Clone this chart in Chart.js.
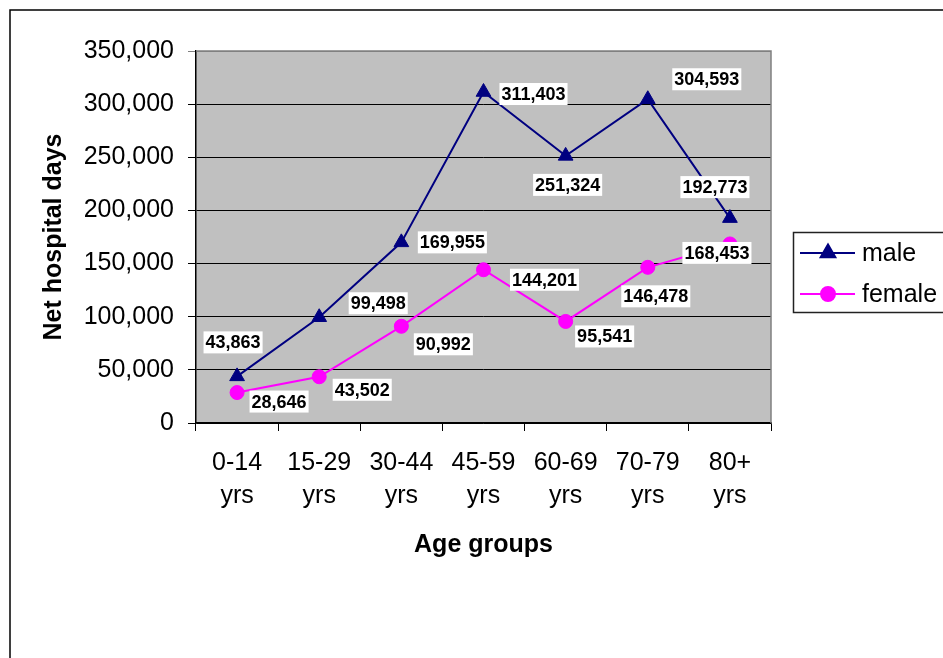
<!DOCTYPE html>
<html>
<head>
<meta charset="utf-8">
<script src="https://cdn.jsdelivr.net/npm/chart.js@4.4.0/dist/chart.umd.min.js"></script>
<style>
    html, body { margin: 0; padding: 0; background: #fff; }
    #wrap { width: 943px; height: 658px; position: relative; }
</style>
</head>
<body>
<div id="wrap"><canvas id="hospitalChart" width="943" height="658"></canvas></div>
<script>
// data
var ageGroups = [["0-14", "yrs"], ["15-29", "yrs"], ["30-44", "yrs"], ["45-59", "yrs"], ["60-69", "yrs"], ["70-79", "yrs"], ["80+", "yrs"]];
var maleDays = [43863, 99498, 169955, 311403, 251324, 304593, 192773];
var femaleDays = [28646, 43502, 90992, 144201, 95541, 146478, 168453];
var yTicks = [0, 50000, 100000, 150000, 200000, 250000, 300000, 350000];

// where each value label sits relative to its point (px)
var maleLabelShift = [[-4, -34], [59, -14], [51, 0], [50, 2], [2, 29], [59, -20], [-15, -31]];
var femaleLabelShift = [[42, 9], [43, 13], [42, 18], [61, 10], [39, 15], [8, 29], [-13, 9]];

var FONT = "'Liberation Sans', Arial, sans-serif";

function fmt(v) {
    return v.toLocaleString("en-US");
}

//- plot background + outer frame -
var backdrop = {
    id: "backdrop",
    beforeDraw: function (chart) {
        var ctx = chart.ctx, a = chart.chartArea;
        ctx.save();
        ctx.fillStyle = "#fff";
        ctx.fillRect(0, 0, chart.width, chart.height);
        ctx.fillStyle = "#C0C0C0";
        ctx.fillRect(a.left, a.top, a.right - a.left, a.bottom - a.top);
        ctx.strokeStyle = "#000";
        ctx.lineWidth = 1.5;
        ctx.beginPath();
        ctx.moveTo(10, chart.height + 2);
        ctx.lineTo(10, 10);
        ctx.lineTo(chart.width + 2, 10);
        ctx.stroke();
        ctx.restore();
    },
    afterDatasetsDraw: function (chart) {
        var ctx = chart.ctx, a = chart.chartArea;
        ctx.save();
        ctx.strokeStyle = "#808080";
        ctx.lineWidth = 1.5;
        ctx.beginPath();
        ctx.moveTo(a.left, a.top);
        ctx.lineTo(a.right, a.top);
        ctx.lineTo(a.right, a.bottom);
        ctx.stroke();
        ctx.restore();
    }
};

//- value labels -
var valueLabels = {
    id: "valueLabels",
    afterDatasetsDraw: function (chart) {
        var ctx = chart.ctx;
        var shifts = [maleLabelShift, femaleLabelShift];
        ctx.save();
        ctx.font = "bold 18px " + FONT;
        ctx.textAlign = "center";
        ctx.textBaseline = "middle";
        chart.data.datasets.forEach(function (ds, d) {
            var meta = chart.getDatasetMeta(d);
            meta.data.forEach(function (pt, i) {
                var txt = fmt(ds.data[i]);
                var x = pt.x + shifts[d][i][0];
                var y = pt.y + shifts[d][i][1];
                var w = ctx.measureText(txt).width + 4;
                ctx.fillStyle = "#fff";
                ctx.fillRect(x - w / 2, y - 11, w, 22);
                ctx.fillStyle = "#000";
                ctx.fillText(txt, x, y + 1);
            });
        });
        ctx.restore();
    }
};

//- legend box on the right -
var sideLegend = {
    id: "sideLegend",
    afterDraw: function (chart) {
        var ctx = chart.ctx;
        ctx.save();
        ctx.strokeStyle = "#222";
        ctx.lineWidth = 1.5;
        ctx.strokeRect(793.5, 232.5, 170, 80);
        ctx.font = "25px " + FONT;
        ctx.textBaseline = "middle";
        ctx.textAlign = "left";
        var rows = [253, 294];
        chart.data.datasets.forEach(function (ds, d) {
            var y = rows[d];
            ctx.strokeStyle = ds.borderColor;
            ctx.lineWidth = 2;
            ctx.beginPath();
            ctx.moveTo(800, y);
            ctx.lineTo(855, y);
            ctx.stroke();
            ctx.fillStyle = ds.pointBackgroundColor;
            ctx.strokeStyle = ds.pointBorderColor;
            Chart.helpers.drawPoint(ctx, {
                pointStyle: ds.pointStyle,
                radius: ds.pointRadius,
                borderWidth: 1,
                rotation: 0
            }, 828, y);
            ctx.fillStyle = "#000";
            ctx.fillText(ds.label, 862, y + 1);
        });
        ctx.restore();
    }
};

var hospitalCanvas = document.getElementById("hospitalChart");

new Chart(hospitalCanvas, {
    type: "line",
    data: {
        labels: ageGroups,
        datasets: [
            {
                label: "male",
                data: maleDays,
                borderColor: "#000080",
                backgroundColor: "#000080",
                borderWidth: 2,
                pointStyle: "triangle",
                pointRadius: 8.5,
                pointBackgroundColor: "#000080",
                pointBorderColor: "#000080",
                pointBorderWidth: 1,
                tension: 0,
                fill: false,
            },
            {
                label: "female",
                data: femaleDays,
                borderColor: "#FF00FF",
                backgroundColor: "#FF00FF",
                borderWidth: 2,
                pointStyle: "circle",
                pointRadius: 7,
                pointBackgroundColor: "#FF00FF",
                pointBorderColor: "#FF00FF",
                pointBorderWidth: 1,
                tension: 0,
                fill: false,
            },
        ],
    },
    options: {
        responsive: false,
        animation: false,
        layout: { padding: { left: 35, top: 51, right: 172, bottom: 94 } },
        plugins: {
            legend: { display: false },
            tooltip: { enabled: false },
        },
        scales: {
            x: {
                offset: true,
                grid: {
                    offset: true,
                    drawOnChartArea: false,
                    drawTicks: true,
                    tickLength: 8,
                    color: "#000",
                },
                border: { color: "#000", width: 1.5 },
                ticks: {
                    color: "#000",
                    font: { family: FONT, size: 25, lineHeight: 1.3 },
                    padding: 16,
                    maxRotation: 0,
                    autoSkip: false,
                },
                title: {
                    display: true,
                    text: "Age groups",
                    color: "#000",
                    font: { family: FONT, size: 25, weight: "bold" },
                },
                afterFit: function (scale) { scale.height = 141; },
            },
            y: {
                min: 0,
                max: 350000,
                afterBuildTicks: function (scale) {
                    scale.ticks = yTicks.map(function (v) { return { value: v }; });
                },
                grid: {
                    color: function (c) { return c.tick && c.tick.value === 350000 ? "#808080" : "#000"; },
                    lineWidth: 1,
                    tickLength: 8,
                },
                border: { color: "#000", width: 1.5 },
                ticks: {
                    color: "#000",
                    font: { family: FONT, size: 25 },
                    padding: 14,
                    callback: function (v) { return fmt(v); },
                },
                title: {
                    display: true,
                    text: "Net hospital days",
                    color: "#000",
                    font: { family: FONT, size: 25, weight: "bold" },
                },
                afterFit: function (scale) { scale.width = 161; },
            },
        },
    },
    plugins: [backdrop, valueLabels, sideLegend],
});
</script>
</body>
</html>
